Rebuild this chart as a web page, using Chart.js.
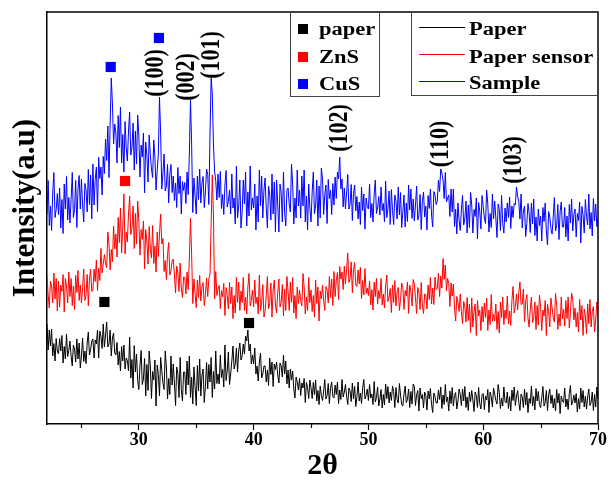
<!DOCTYPE html>
<html>
<head>
<meta charset="utf-8">
<script src="https://cdn.jsdelivr.net/npm/chart.js@4.4.1/dist/chart.umd.min.js"></script>
<style>
  html, body { margin: 0; padding: 0; background: #ffffff; }
  #xrd { display: block; }
  .fontprobe { font-family: "Liberation Serif"; font-weight: bold; position: absolute; left: -9999px; }
</style>
</head>
<body>
<span class="fontprobe">2θ Intensity</span>
<canvas id="xrd" width="610" height="484"></canvas>
<script>
// Scan grid: 2θ from 22° to 70° in 0.1° steps
const twoThetaStart = 22;
const twoThetaStep = 0.1;

// Intensity (a.u., stacked offsets) — one row per degree, 22.0 … 69.9, then 70.0
const paperCounts = [
  200,148,188,156,190,136,161,126,171,146,
  140,171,146,177,122,155,130,180,135,147,
  166,136,116,158,150,124,170,130,162,112,
  136,172,125,146,121,162,184,138,148,166,
  170,132,168,160,188,132,186,176,151,200,
  154,178,204,154,160,188,136,172,182,142,
  138,163,118,145,106,155,126,158,110,132,
  127,106,174,92,129,72,157,104,140,87,
  69,116,147,79,90,131,56,119,67,146,
  116,51,105,88,128,36,118,99,56,133,
  107,82,69,146,114,50,91,59,136,78,
  120,82,37,114,101,53,133,69,46,104,
  104,59,126,78,136,53,94,40,114,75,
  37,117,66,130,56,98,110,43,75,123,
  70,119,84,133,53,105,70,146,81,100,
  80,138,93,109,74,158,87,106,144,79,
  100,126,156,110,120,152,104,146,162,128,
  136,160,140,176,166,188,146,160,120,138,
  120,152,100,116,86,124,142,92,100,116,
  116,84,108,77,132,99,124,75,120,109,
  124,98,82,122,116,94,138,100,126,80,
  108,72,110,88,106,70,52,94,84,68,
  91,57,82,72,91,43,83,73,51,88,
  73,51,83,59,88,46,67,39,76,57,
  47,66,89,50,57,81,41,73,84,55,
  52,78,59,84,41,68,49,89,54,64,
  79,55,39,72,66,45,82,50,75,35,
  55,84,46,62,41,73,89,50,57,70,
  47,79,52,60,39,85,44,53,74,36,
  50,69,32,59,38,80,51,75,42,64,
  47,76,65,33,73,49,42,81,58,39,
  36,60,76,43,49,70,33,65,40,80,
  75,37,58,67,26,72,51,59,32,64,
  57,28,66,50,71,39,23,62,55,42,
  42,68,49,74,31,58,39,79,44,54,
  26,66,41,73,36,57,63,30,46,70,
  59,37,70,46,75,33,54,27,64,45,
  67,48,25,64,57,33,73,41,30,59,
  61,29,56,48,69,23,64,55,34,72,
  60,47,40,79,63,31,52,36,74,45,
  42,64,31,55,26,68,47,74,37,56,
  67,43,27,60,54,33,70,38,63,23,
  51,41,76,36,55,28,71,46,65,39,
  33,52,75,36,43,67,27,59,70,41,
  58,32,51,26,69,42,61,21,56,46,
  43,72,34,50,29,61,77,38,45,58,
  42,61,24,51,30,72,43,67,34,56,
  30,54,70,37,43,64,27,59,34,74,
  50
];

const sensorCounts = [
  297,258,232,286,276,242,302,250,291,226,
  286,234,278,265,299,224,291,276,242,304,
  255,291,237,276,229,297,263,307,247,278,
  242,273,310,247,258,299,236,290,310,265,
  268,310,285,328,267,312,287,351,302,320,
  339,320,313,384,360,308,349,325,396,350,
  380,334,413,363,432,342,393,460,340,384,
  364,420,456,379,391,436,351,421,360,446,
  406,338,389,369,406,310,389,366,320,395,
  351,332,397,321,356,304,384,335,380,420,
  360,371,305,327,289,339,363,298,307,326,
  330,298,262,316,304,265,322,272,253,294,
  293,260,304,269,330,412,340,241,290,261,
  233,288,253,297,246,275,283,237,259,292,
  255,290,300,400,498,420,250,305,257,270,
  277,231,267,254,281,217,273,259,230,283,
  241,274,211,257,222,293,243,284,227,266,
  243,293,227,254,220,274,301,236,247,268,
  234,288,241,254,220,298,227,243,279,214,
  225,257,295,230,241,282,214,268,288,238,
  222,263,290,234,243,279,216,270,227,295,
  266,227,284,243,293,222,257,211,274,241,
  268,247,236,301,274,220,254,227,293,243,
  268,225,257,214,288,241,274,206,266,250,
  278,247,227,275,269,242,295,253,290,237,
  305,255,287,303,249,315,290,304,269,316,
  280,309,342,283,290,324,262,308,323,278,
  275,308,280,313,251,287,258,311,261,272,
  257,286,238,269,228,284,255,291,240,267,
  251,291,238,260,232,276,298,245,254,271,
  223,278,243,287,236,265,273,227,249,282,
  273,229,267,256,284,221,278,265,236,289,
  280,253,221,273,263,229,283,238,221,260,
  259,230,278,249,293,240,272,239,294,269,
  271,302,255,296,272,331,289,318,266,291,
  281,235,282,256,280,232,206,255,244,225,
  260,225,201,245,235,204,253,207,240,183,
  252,194,225,240,177,247,216,228,187,235,
  204,242,213,252,187,228,199,259,206,220,
  206,240,189,225,182,244,213,254,199,228,
  211,256,200,226,197,247,275,222,235,260,
  228,263,284,239,240,270,204,246,259,212,
  194,230,254,203,213,244,189,237,198,258,
  235,187,228,216,247,177,240,225,194,252,
  232,213,204,261,237,189,220,196,254,211,
  230,196,247,211,254,192,223,262,250,208,
  232,194,223,184,249,208,237,177,230,216,
  180,240,201,249,194,225,235,184,208,244,
  220
];

const sampleCounts = [
  419,487,397,436,387,464,503,413,429,461,
  419,472,392,449,381,480,430,495,408,453,
  402,449,503,413,429,487,393,470,497,430,
  490,438,404,481,469,424,509,439,498,410,
  520,438,489,514,425,533,491,514,458,535,
  501,570,527,596,493,600,692,640,560,600,
  582,522,617,553,634,522,579,504,605,552,
  526,586,624,538,552,602,508,586,520,618,
  578,494,558,534,582,462,564,538,484,578,
  539,510,493,568,534,468,507,540,654,580,
  470,502,540,466,476,519,442,500,519,463,
  496,447,482,433,513,461,496,420,485,467,
  483,441,504,459,540,648,560,423,492,456,
  420,496,449,510,442,482,495,433,464,510,
  499,439,580,692,660,560,505,487,448,500,
  453,505,431,459,419,478,507,434,445,468,
  420,500,432,452,400,516,412,436,488,392,
  424,488,440,504,396,464,416,516,428,452,
  432,480,388,456,404,508,436,496,412,468,
  492,432,392,476,460,408,500,420,484,384,
  488,440,384,480,464,404,504,424,396,468,
  472,440,424,520,480,400,452,412,508,436,
  468,412,496,436,508,404,456,388,480,432,
  404,464,504,420,436,488,396,476,412,512,
  490,419,459,478,401,489,451,468,419,481,
  438,494,451,504,490,534,470,490,434,472,
  430,462,499,430,439,479,407,461,478,426,
  455,410,444,399,474,427,460,390,452,435,
  430,480,413,441,404,460,488,421,432,455,
  418,474,427,441,404,486,413,430,466,399,
  469,427,399,458,446,410,474,418,463,393,
  425,458,394,442,405,478,428,470,411,450,
  406,438,476,408,418,459,389,445,464,414,
  436,388,457,431,470,418,394,465,458,439,
  446,488,465,510,502,488,451,503,444,452,
  458,415,470,424,470,395,430,380,442,407,
  387,429,457,398,410,446,382,438,393,463,
  438,382,429,415,452,370,443,426,390,457,
  435,412,401,468,440,384,421,393,460,410,
  446,412,373,440,429,387,457,401,382,432,
  404,442,413,454,391,436,413,441,438,474,
  455,445,410,460,392,426,436,375,401,441,
  422,383,442,400,450,377,414,366,430,397,
  416,366,433,405,442,386,358,425,414,391,
  380,414,453,386,397,439,369,425,444,394,
  394,433,374,416,366,439,402,450,386,419,
  430,374,421,407,444,362,435,418,382,449,
  415,398,460,390,423,376,451,406,440,395,
  410
];

// Phase markers (2θ, marker level)
const paperMarkX = [27.0, 39.6];
const paperMarkY = [244, 202];
const znsMarkX = [28.8];
const znsMarkY = [486];
const cusMarkX = [27.55, 31.75];
const cusMarkY = [714, 772];

// Miller indices annotated above the sample peaks
const peakHkl = ['(100)', '(002)', '(101)', '(102)', '(110)', '(103)'];
const peakLabelX = [31.48, 34.17, 36.35, 47.57, 56.35, 62.72];
const peakLabelY = [702, 694, 738, 592, 560, 528];

// Axis settings
const xMin = 22, xMax = 70;
const yMin = 0, yMax = 824;
const xTickStep = 5;

// Legend entries
const phaseNames = ['paper', 'ZnS', 'CuS'];
const phaseColors = ['#000000', '#ff0000', '#0000ff'];
const traceNames = ['Paper', 'Paper sensor', 'Sample'];
const traceColors = ['#000000', '#ff0000', '#0000ff'];

const SERIF = '"Liberation Serif", "Times New Roman", Tinos, serif';

function toPoints(values) {
  return values.map((v, i) => ({ x: +(twoThetaStart + i * twoThetaStep).toFixed(1), y: v }));
}
function markPoints(xs, ys) {
  return xs.map((x, i) => ({ x: x, y: ys[i] }));
}

function lineSet(values, color) {
  return {
    type: 'line', data: toPoints(values), borderColor: color, borderWidth: 1,
    pointRadius: 0, tension: 0, fill: false
  };
}
function markSet(xs, ys, color) {
  return {
    type: 'scatter', data: markPoints(xs, ys), pointStyle: 'rect', pointRadius: 7.2,
    backgroundColor: color, borderColor: color, borderWidth: 0, showLine: false
  };
}

const decorPlugin = {
  id: 'decor',
  afterDraw(chart) {
    const c = chart.ctx;
    const a = chart.chartArea;
    const xs = chart.scales.x, ys = chart.scales.y;
    c.save();

    // closing frame: top and right edges
    c.strokeStyle = '#000'; c.lineWidth = 1.5;
    c.beginPath();
    c.moveTo(a.left, a.top); c.lineTo(a.right, a.top); c.lineTo(a.right, a.bottom);
    c.stroke();

    // minor ticks on the 2θ axis
    c.lineWidth = 1.2;
    xs.ticks.forEach(t => {
      if (t.value % 10 !== 0) {
        const px = Math.round(xs.getPixelForValue(t.value)) + 0.5;
        c.beginPath(); c.moveTo(px, a.bottom); c.lineTo(px, a.bottom + 4); c.stroke();
      }
    });

    // Miller index labels
    c.fillStyle = '#000';
    c.font = 'bold 22px ' + SERIF;
    c.textAlign = 'center'; c.textBaseline = 'middle';
    peakHkl.forEach((txt, i) => {
      c.save();
      c.translate(xs.getPixelForValue(peakLabelX[i]), ys.getPixelForValue(peakLabelY[i]));
      c.scale(1.2, 1);
      c.rotate(-Math.PI / 2);
      c.fillText(txt, 0, 0);
      c.restore();
    });

    // phase legend box
    c.strokeStyle = '#444'; c.lineWidth = 1;
    c.strokeRect(290.5, 12.5, 89, 84);
    c.font = 'bold 18px ' + SERIF;
    c.textAlign = 'left'; c.textBaseline = 'alphabetic';
    const phaseBase = [35, 63, 90];
    phaseNames.forEach((n, i) => {
      c.fillStyle = phaseColors[i];
      c.fillRect(298, phaseBase[i] - 11, 10, 10);
      c.fillStyle = '#000';
      c.save(); c.translate(319, phaseBase[i]); c.scale(1.25, 1); c.fillText(n, 0, 0); c.restore();
    });

    // trace legend box
    c.strokeStyle = '#444';
    c.strokeRect(411.5, 12.5, a.right - 411.5, 83);
    const traceBase = [35, 63, 89];
    const traceLineY = [27.5, 54.5, 81.5];
    traceNames.forEach((n, i) => {
      c.strokeStyle = traceColors[i]; c.lineWidth = 1;
      c.beginPath(); c.moveTo(419, traceLineY[i]); c.lineTo(465, traceLineY[i]); c.stroke();
      c.fillStyle = '#000';
      c.save(); c.translate(469, traceBase[i]); c.scale(1.25, 1); c.fillText(n, 0, 0); c.restore();
    });

    // axis titles
    c.fillStyle = '#000';
    c.textAlign = 'center'; c.textBaseline = 'middle';
    c.font = 'bold 30px ' + SERIF;
    c.fillText('2\u03b8', (a.left + a.right) / 2, 466);
    c.save();
    c.translate(26, 208);
    c.rotate(-Math.PI / 2);
    c.font = 'bold 31px ' + SERIF;
    c.fillText('Intensity(a.u)', 0, 0);
    c.restore();

    c.restore();
  }
};

function drawChart() {
  new Chart(document.getElementById('xrd'), {
    type: 'line',
    data: {
      datasets: [
        lineSet(paperCounts, traceColors[0]),
        lineSet(sensorCounts, traceColors[1]),
        lineSet(sampleCounts, traceColors[2]),
        markSet(paperMarkX, paperMarkY, phaseColors[0]),
        markSet(znsMarkX, znsMarkY, phaseColors[1]),
        markSet(cusMarkX, cusMarkY, phaseColors[2])
      ]
    },
    options: {
      responsive: false,
      animation: false,
      devicePixelRatio: 1,
      layout: { padding: { top: 12, right: 12, left: 0, bottom: 0 } },
      plugins: { legend: { display: false }, tooltip: { enabled: false } },
      scales: {
        x: {
          type: 'linear', min: xMin, max: xMax,
          afterFit(s) { s.height = 60; },
          afterBuildTicks(s) {
            s.ticks = s.ticks.filter(t => t.value % xTickStep === 0);
          },
          ticks: {
            stepSize: xTickStep, autoSkip: false, maxRotation: 0, padding: 0,
            color: '#000', font: { family: SERIF, size: 18, weight: 'bold' },
            callback: v => (v % 10 === 0 ? String(v) : '')
          },
          grid: {
            drawOnChartArea: false, drawTicks: true, tickLength: 6, tickWidth: 1.2,
            tickColor: ctx => (ctx.tick && ctx.tick.value % 10 === 0 ? '#000' : 'rgba(0,0,0,0)')
          },
          border: { display: true, color: '#000', width: 1.5 }
        },
        y: {
          min: yMin, max: yMax,
          afterFit(s) { s.width = 47; },
          ticks: { display: false },
          grid: { display: false },
          border: { display: true, color: '#000', width: 1.5 }
        }
      }
    },
    plugins: [decorPlugin]
  });
}

const fontReady = document.fonts && document.fonts.load
  ? Promise.all([
      document.fonts.load('bold 18px "Liberation Serif"'),
      document.fonts.load('bold 18px "Times New Roman"')
    ]).catch(() => null)
  : Promise.resolve();
fontReady.then(drawChart, drawChart);
</script>
</body>
</html>
